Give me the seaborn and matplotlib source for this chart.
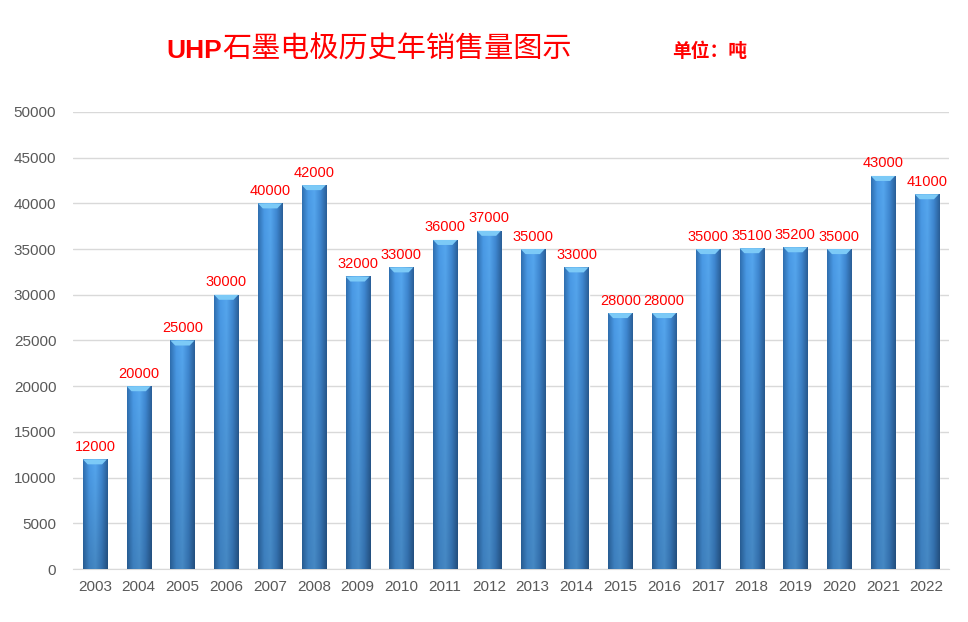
import numpy as np
import pandas as pd
import matplotlib
matplotlib.use("Agg")
import matplotlib.pyplot as plt
import seaborn as sns
from matplotlib.colors import to_rgb
from matplotlib.patches import Polygon

years = [str(y) for y in range(2003, 2023)]
sales = [12000, 20000, 25000, 30000, 40000, 42000, 32000, 33000, 36000, 37000,
         35000, 33000, 28000, 28000, 35000, 35100, 35200, 35000, 43000, 41000]

df = pd.DataFrame({"year": years, "sales": sales})

sns.set_style("white")
plt.rcParams["font.family"] = ["Liberation Sans", "Noto Sans CJK SC", "DejaVu Sans"]

fig = plt.figure(figsize=(9.68, 6.22), dpi=100)
ax = fig.add_axes([0.0754, 0.0852, 0.9046, 0.7348])

sns.barplot(data=df, x="year", y="sales", color="#4a90d9", width=0.55, ax=ax,
            saturation=1, zorder=3)

# cylinder-like shading: horizontal profile, slightly darker toward the bottom
stops = np.array([to_rgb(c) for c in ["#2f6fb0", "#4a9ae6", "#55a6ee", "#3f88d2", "#2a5f98"]])
xs = np.linspace(0, 1, 64)
pos = np.linspace(0, 1, len(stops))
row = np.stack([np.interp(xs, pos, stops[:, i]) for i in range(3)], axis=-1)
vert = np.linspace(1.0, 0.82, 64)[:, None, None]
grad = np.clip(row[None, :, :] * vert, 0, 1)

for p in ax.patches:
    x0, y0 = p.get_x(), p.get_y()
    w, h = p.get_width(), p.get_height()
    im = ax.imshow(grad, aspect="auto", extent=[x0, x0 + w, y0, y0 + h],
                   origin="upper", zorder=4)
    im.set_clip_path(p)
    cap = 550
    ax.add_patch(Polygon([[x0, y0 + h], [x0 + w, y0 + h], [x0 + w * 0.8, y0 + h - cap],
                          [x0 + w * 0.2, y0 + h - cap]], closed=True,
                         facecolor="#7ccaf7", edgecolor="none", zorder=5))
    ax.text(x0 + w / 2, y0 + h + 600, f"{int(h)}", ha="center", va="bottom",
            color="red", fontsize=10.5, zorder=6)

ax.set_xlim(-0.5, len(years) - 0.5)
ax.set_ylim(0, 50000)
ax.set_yticks(range(0, 50001, 5000))
ax.yaxis.grid(True, color="#d9d9d9", linewidth=1, zorder=0)
ax.set_axisbelow(True)
for s in ["top", "right", "left"]:
    ax.spines[s].set_visible(False)
ax.spines["bottom"].set_color("#d9d9d9")
ax.tick_params(axis="both", length=0, labelsize=11, colors="#595959", pad=8)
ax.tick_params(axis="y", pad=12)
ax.set_xlabel("")
ax.set_ylabel("")

cjk = ["Noto Sans CJK SC", "DejaVu Sans"]
fig.text(0.2295, 0.918, "UHP", ha="right", va="center", color="red",
         fontsize=19, fontweight="bold", family=["Liberation Sans"])
fig.text(0.2295, 0.92, "石墨电极历史年销售量图示", ha="left", va="center",
         color="red", fontsize=21, family=cjk)
fig.text(0.733, 0.918, "单位：吨", ha="center", va="center",
         color="red", fontsize=13.5, fontweight="bold", family=cjk)

fig.savefig("out.png", dpi=100)
